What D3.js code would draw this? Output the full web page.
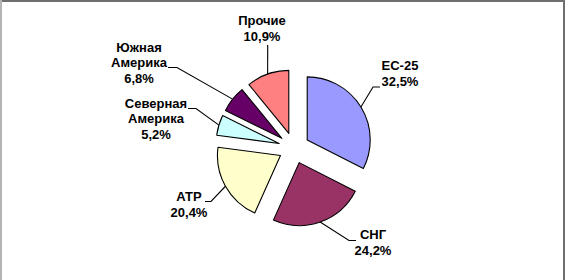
<!DOCTYPE html>
<html><head><meta charset="utf-8">
<script src="https://cdn.jsdelivr.net/npm/d3@7"></script>
<style>html,body{margin:0;padding:0;background:#fff;}svg{display:block;}</style>
</head><body>
<svg id="c" width="566" height="280"></svg>
<script>
// Data
const categories = ["ЕС-25", "СНГ", "АТР", "Северная Америка", "Южная Америка", "Прочие"];
const labelLines = [["ЕС-25"], ["СНГ"], ["АТР"], ["Северная", "Америка"], ["Южная", "Америка"], ["Прочие"]];
const values = [32.5, 24.2, 20.4, 5.2, 6.8, 10.9];
const valueLabels = ["32,5%", "24,2%", "20,4%", "5,2%", "6,8%", "10,9%"];
const colors = ["#9999FF", "#993366", "#FFFFCC", "#CCFFFF", "#660066", "#FF8080"];

// Layout (label text anchor centre x, first baseline y, leader elbow and end of horizontal)
const labelLayout = [
  {x: 400, y: 70, elbow: [373, 87], hx: 380},
  {x: 373, y: 239, elbow: [349, 240.5], hx: 356},
  {x: 189, y: 201, elbow: [211, 201.5], hx: 205},
  {x: 156, y: 107.5, elbow: [196, 108.5], hx: 188},
  {x: 139, y: 51.5, elbow: [177, 67.5], hx: 168},
  {x: 262, y: 25, elbow: [267.7, 45], hx: 267.7}
];

const svg = d3.select("#c");
// frame
svg.append("rect").attr("x", 0).attr("y", 0).attr("width", 566).attr("height", 280).attr("fill", "#fff");
svg.append("rect").attr("x", 0).attr("y", 0).attr("width", 565).attr("height", 2).attr("fill", "#6f6f6f");
svg.append("rect").attr("x", 0).attr("y", 0).attr("width", 2).attr("height", 280).attr("fill", "#b4b4b4");
svg.append("rect").attr("x", 563).attr("y", 0).attr("width", 2).attr("height", 280).attr("fill", "#6f6f6f");

const cx = 294, cy = 148, r = 63, explode = 15.5;
const pie = d3.pie().sort(null).value(d => d)(values);
const arc = d3.arc().innerRadius(0).outerRadius(r);

const g = svg.append("g").attr("transform", `translate(${cx},${cy})`);
pie.forEach((p, i) => {
  const mid = (p.startAngle + p.endAngle) / 2;
  const dx = Math.sin(mid) * explode, dy = -Math.cos(mid) * explode;
  g.append("path")
    .attr("d", arc(p))
    .attr("transform", `translate(${dx},${dy})`)
    .attr("fill", colors[i])
    .attr("stroke", "#000")
    .attr("stroke-width", 1.1)
    .attr("stroke-linejoin", "round");
  // leader line
  const ax = cx + dx + Math.sin(mid) * r, ay = cy + dy - Math.cos(mid) * r;
  const L = labelLayout[i];
  const pts = [[ax, ay], L.elbow, [L.hx, L.elbow[1]]];
  svg.append("path")
    .attr("d", d3.line()(pts))
    .attr("fill", "none").attr("stroke", "#000").attr("stroke-width", 1.1);
  const lines = labelLines[i].concat([valueLabels[i]]);
  const t = svg.append("text")
    .attr("x", L.x).attr("y", L.y)
    .attr("text-anchor", "middle")
    .attr("font-family", "Liberation Sans, Arial, sans-serif")
    .attr("font-weight", "bold")
    .attr("font-size", 13)
    .attr("fill", "#000");
  lines.forEach((s, k) => {
    t.append("tspan").attr("x", L.x).attr("dy", k === 0 ? 0 : 15.5).text(s);
  });
});
</script>
</body></html>
